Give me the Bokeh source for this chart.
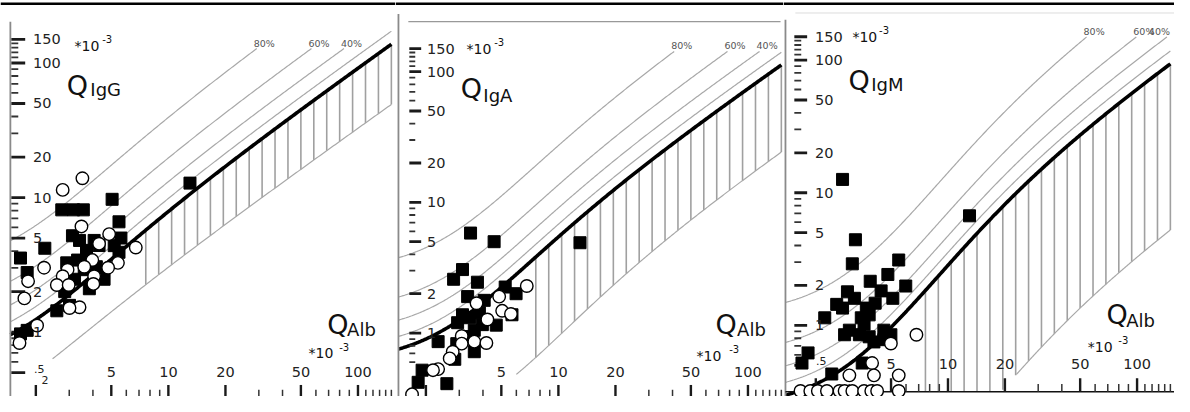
import numpy as np
from bokeh.plotting import figure
from bokeh.layouts import row
from bokeh.models import Label, Span
from bokeh.embed import file_html
from bokeh.resources import INLINE

# ---------------- data (all quotients in units of 10^-3) ----------------
# Reiber hyperbolic functions  Q = a*sqrt(QAlb^2 + b2) - c
UPPER = {"IgG": (0.93, 6.0, 1.7), "IgA": (0.77, 23.0, 3.1), "IgM": (0.67, 120.0, 7.1)}
LOWER = {"IgG": (0.33, 2.0, 0.3), "IgA": (0.17, 74.0, 1.3), "IgM": (0.04, 442.0, 0.82)}
FRACTIONS = [0.2, 0.4, 0.6, 0.8]
FRACTION_LABELS = {0.4: "40%", 0.6: "60%", 0.8: "80%"}
QALB_MAX = 150.0
HATCH_START = 7.6
HATCH_N = 20

x_tick_major = [2, 5, 10, 20, 50, 100]
x_tick_minor = [3, 4, 6, 7, 8, 9, 30, 40, 60, 70, 80, 90, 110, 120, 130, 140, 150]
x_tick_labels = [5, 10, 20, 50, 100]
y_tick_major = [0.5, 1, 2, 5, 10, 20, 50, 100, 150]
y_tick_minor = [0.6, 0.7, 0.8, 0.9, 3, 4, 6, 7, 8, 9, 30, 40, 60, 70, 80, 90, 110, 120, 130, 140]
y_tick_labels = [150, 100, 50, 20, 10, 5, 2, 1]

igg_sq_alb = [5.05, 2.74, 3.16, 3.56, 5.49, 3.12, 3.4, 4.06, 4.31, 5.62, 2.23, 1.66, 1.8, 2.91, 3.7, 3.74,
              3.6, 4.58, 3.83, 2.84, 3.01, 2.58, 1.8, 1.66, 5.18, 5.49, 4.17, 4.43, 3.32, 3.2, 13.0]
igg_sq_q = [9.7, 8.1, 8.1, 8.1, 6.6, 5.2, 4.8, 4.8, 4.4, 5.0, 4.2, 3.55, 2.77, 3.27, 4.05, 3.43,
            2.91, 2.47, 2.1, 2.0, 1.58, 1.44, 1.03, 0.97, 4.39, 3.92, 3.06, 2.6, 3.43, 2.47, 12.8]
igg_ci_alb = [3.52, 2.77, 3.48, 4.87, 6.73, 2.21, 5.42, 4.81, 2.94, 2.77, 2.58, 2.98, 1.82, 1.74, 4.06,
              4.02, 3.4, 3.01, 2.03, 1.64, 4.31, 3.97, 3.6]
igg_ci_q = [13.9, 11.4, 6.1, 5.35, 4.25, 3.01, 3.27, 3.01, 2.91, 2.6, 2.24, 2.24, 2.39, 1.78, 2.6,
            2.28, 1.53, 1.51, 1.12, 0.83, 4.54, 3.43, 3.06]

iga_sq_alb = [3.44, 4.58, 13.0, 3.12, 2.8, 3.74, 3.32, 5.24, 5.98, 4.06, 3.12, 2.94, 3.4, 3.83, 3.6,
              2.91, 4.7, 5.69, 2.32, 3.6, 2.84, 1.91, 1.82, 2.58, 3.97, 3.24]
iga_sq_q = [5.82, 5.0, 4.91, 3.06, 2.58, 2.45, 1.9, 2.25, 2.0, 1.78, 1.38, 1.2, 1.31, 1.43, 1.05,
            0.83, 1.15, 1.38, 0.86, 0.72, 0.63, 0.52, 0.42, 0.41, 1.16, 0.94]
iga_ci_alb = [6.81, 4.87, 5.05, 5.62, 3.7, 4.22, 3.09, 3.6, 4.17, 3.09, 2.77, 2.67, 2.32, 2.18, 1.69]
iga_ci_q = [2.29, 1.9, 1.48, 1.4, 1.69, 1.27, 0.95, 0.86, 0.84, 0.83, 0.72, 0.64, 0.53, 0.52, 0.34]

igm_sq_alb = [2.77, 13.0, 3.24, 3.12, 5.49, 4.81, 3.88, 5.98, 4.43, 2.94, 5.11, 3.2, 4.12, 2.58, 2.77,
              3.7, 2.23, 3.48, 3.83, 3.6, 3.01, 4.58, 4.99, 2.84, 3.4, 3.83, 4.06, 4.58, 1.82, 1.69,
              3.52, 2.43]
igm_sq_q = [12.6, 6.7, 4.42, 2.91, 3.11, 2.42, 2.15, 1.98, 1.82, 1.79, 1.6, 1.6, 1.47, 1.44, 1.35,
            1.35, 1.14, 1.14, 1.2, 1.02, 0.92, 0.92, 0.85, 0.85, 0.85, 0.82, 0.75, 0.78, 0.62, 0.52,
            0.52, 0.43]
igm_ci_alb = [6.81, 4.99, 3.97, 3.01, 4.06, 5.49, 1.66, 1.87, 2.05, 2.29, 2.67, 2.84, 3.12, 3.6, 3.93,
              4.22, 5.49]
igm_ci_q = [0.85, 0.73, 0.52, 0.42, 0.42, 0.42, 0.32, 0.32, 0.32, 0.32, 0.32, 0.32, 0.32, 0.32, 0.32,
            0.32, 0.32]

# ---------------- layout (reference pixel calibration) ----------------
H = 396
REF_H = 412
XDEC = 192.0
FONT = "DejaVu Sans"

PANELS = [
    dict(name="IgG", sub="IgG", left=0, right=400, w=395, x10=170, y10=205, dec=140,
         axis_px=10, axis_top=22, ytm=(11, 25), ytn=(11, 18), ylab_px=33, half=True,
         xtm=(400, 420), xtn=(405, 420), xlab_py=386, baseline=None,
         q=(67, 88), s=(91, 93), qa=(331, 337), al=(351, 342),
         et=(75, 47, 103, 40), eb=(312, 367, 343, 361), pct_py=50, lower_start=2.45,
         data=(igg_sq_alb, igg_sq_q, igg_ci_alb, igg_ci_q)),
    dict(name="IgA", sub="IgA", left=400, right=793, w=388, x10=565, y10=210, dec=136,
         axis_px=403, axis_top=14, ytm=(414, 426), ytn=(414, 420), ylab_px=432, half=False,
         xtm=(400, 420), xtn=(405, 420), xlab_py=386, baseline=None,
         q=(466, 92), s=(489, 99), qa=(724, 337), al=(746, 342),
         et=(472, 50, 500, 43), eb=(705, 370, 738, 363), pct_py=53, lower_start=6.0,
         data=(iga_sq_alb, iga_sq_q, iga_ci_alb, iga_ci_q)),
    dict(name="IgM", sub="IgM", left=793, right=1190, w=391, x10=960, y10=200, dec=138,
         axis_px=795, axis_top=20, ytm=(804, 817), ytn=(804, 811), ylab_px=825, half=True,
         xtm=(393, 407), xtn=(399, 407), xlab_py=378, baseline=407,
         q=(859, 83), s=(882, 87), qa=(1121, 327), al=(1141, 333),
         et=(863, 38, 890, 31), eb=(1102, 360, 1133, 353), pct_py=38, lower_start=23.0,
         data=(igm_sq_alb, igm_sq_q, igm_ci_alb, igm_ci_q)),
]


def make_panel(c):
    def X(px):
        return 10 ** (1 + (px - c["x10"]) / XDEC)

    def Y(py):
        return 10 ** (1 + (c["y10"] - py) / c["dec"])

    p = figure(width=c["w"], height=H, x_axis_type="log", y_axis_type="log",
               x_axis_location=None, y_axis_location=None,
               x_range=(X(c["left"]), X(c["right"])), y_range=(Y(REF_H), Y(0)),
               output_backend="svg", toolbar_location=None, min_border=0)
    p.grid.visible = False
    p.outline_line_color = None
    p.background_fill_color = "white"
    p.border_fill_color = "white"

    a, b2, cc = UPPER[c["name"]]
    la, lb2, lc = LOWER[c["name"]]

    def f_up(q):
        return a * np.sqrt(np.asarray(q) ** 2 + b2) - cc

    def f_lo(q):
        return la * np.sqrt(np.asarray(q) ** 2 + lb2) - lc

    x0 = X(c["axis_px"])
    qa = np.geomspace(x0, QALB_MAX, 400)
    bottom = Y(c["baseline"] if c["baseline"] else REF_H + 5)

    # top page rule
    p.add_layout(Span(location=Y(3.5), dimension="width", line_color="black", line_width=2.5))

    # hatch (barrier dysfunction zone)
    hx = np.geomspace(HATCH_START, QALB_MAX, HATCH_N)
    p.segment(x0=hx, y0=np.maximum(f_lo(hx), bottom), x1=hx, y1=f_up(hx),
              line_color="#a0a0a0", line_width=1.6)

    # intrathecal fraction lines
    qtop = Y(c["pct_py"])
    xmax_label = X(c["right"] - 23)
    for f in FRACTIONS:
        ys = f_up(qa) / (1 - f)
        if f in FRACTION_LABELS:
            xe = np.sqrt(((qtop * (1 - f) + cc) / a) ** 2 - b2)
            m = ys <= qtop
            xs_ = np.append(qa[m], xe)
            ys_ = np.append(ys[m], qtop)
            p.line(xs_, ys_, line_color="#a8a8a8", line_width=1.2)
            p.add_layout(Label(x=min(xe, xmax_label), y=qtop, text=FRACTION_LABELS[f],
                               text_font=FONT, text_font_size="9.5px", text_color="#555555",
                               text_align="left", text_baseline="bottom", x_offset=-3))
        else:
            p.line(qa, ys, line_color="#a8a8a8", line_width=1.2)

    # lower limit line
    ql = np.geomspace(c["lower_start"], QALB_MAX, 200)
    p.line(ql, f_lo(ql), line_color="#a8a8a8", line_width=1.2)

    # discrimination line
    p.line(qa, f_up(qa), line_color="black", line_width=3.6)

    # axes drawn by hand
    p.segment(x0=[x0], y0=[Y(c["axis_top"])], x1=[x0], y1=[Y(REF_H + 5)],
              line_color="#8a8a8a", line_width=1.8)
    if c["baseline"]:
        p.segment(x0=[x0], y0=[Y(c["baseline"])], x1=[X(c["right"] + 5)], y1=[Y(c["baseline"])],
                  line_color="#111111", line_width=1.6)
    if c["name"] == "IgA":
        p.segment(x0=[X(413)], y0=[Y(22)], x1=[X(790)], y1=[Y(22)],
                  line_color="#999999", line_width=1.4)
    if c["name"] == "IgM":
        p.segment(x0=[X(805)], y0=[Y(13)], x1=[X(1195)], y1=[Y(13)],
                  line_color="#dddddd", line_width=1.0)

    ymaj = [v for v in y_tick_major if c["half"] or v >= 1]
    p.segment(x0=[X(c["ytm"][0])] * len(ymaj), y0=ymaj, x1=[X(c["ytm"][1])] * len(ymaj), y1=ymaj,
              line_color="#1a1a1a", line_width=2.8)
    p.segment(x0=[X(c["ytn"][0])] * len(y_tick_minor), y0=y_tick_minor,
              x1=[X(c["ytn"][1])] * len(y_tick_minor), y1=y_tick_minor,
              line_color="#333333", line_width=1.8)
    p.segment(x0=x_tick_major, y0=[Y(c["xtm"][0])] * len(x_tick_major),
              x1=x_tick_major, y1=[Y(c["xtm"][1])] * len(x_tick_major),
              line_color="#1a1a1a", line_width=2.4)
    p.segment(x0=x_tick_minor, y0=[Y(c["xtn"][0])] * len(x_tick_minor),
              x1=x_tick_minor, y1=[Y(c["xtn"][1])] * len(x_tick_minor),
              line_color="#333333", line_width=1.5)

    for v in y_tick_labels:
        p.add_layout(Label(x=X(c["ylab_px"]), y=v, text=str(v), text_font=FONT,
                           text_font_size="14.5px", text_color="#222222",
                           text_align="left", text_baseline="middle"))
    if c["half"]:
        p.add_layout(Label(x=X(c["ylab_px"] + 1), y=0.5, text=".5", text_font=FONT,
                           text_font_size="11px", text_color="#222222",
                           text_align="left", text_baseline="bottom"))
    for v in x_tick_labels:
        p.add_layout(Label(x=v, y=Y(c["xlab_py"]), text=str(v), text_font=FONT,
                           text_font_size="14.5px", text_color="#222222",
                           text_align="center", text_baseline="middle"))
    if c["name"] == "IgG":
        p.add_layout(Label(x=X(45), y=Y(395), text="2", text_font=FONT, text_font_size="11px",
                           text_color="#222222", text_align="center", text_baseline="middle"))

    # titles
    def lab(pos, text, size, base="alphabetic"):
        p.add_layout(Label(x=X(pos[0]), y=Y(pos[1]), text=text, text_font=FONT,
                           text_font_size=size, text_color="#111111",
                           text_align="left", text_baseline=base))

    lab(c["q"], "Q", "27px")
    lab(c["s"], c["sub"], "18px")
    lab(c["qa"], "Q", "27px")
    lab(c["al"], "Alb", "18px")
    et, eb = c["et"], c["eb"]
    lab((et[0], et[1]), "*10", "14px")
    lab((et[2], et[3]), "-3", "10px")
    lab((eb[0], eb[1]), "*10", "14px")
    lab((eb[2], eb[3]), "-3", "10px")

    sq_x, sq_y, ci_x, ci_y = c["data"]
    p.scatter(sq_x, sq_y, marker="square", size=12, fill_color="black", line_color="black")
    p.scatter(ci_x, ci_y, marker="circle", size=12.5, fill_color="white", line_color="black",
              line_width=1.4)
    return p


panels = [make_panel(c) for c in PANELS]
layout = row(*panels, spacing=0)
open("out.html", "w").write(file_html(layout, INLINE))
